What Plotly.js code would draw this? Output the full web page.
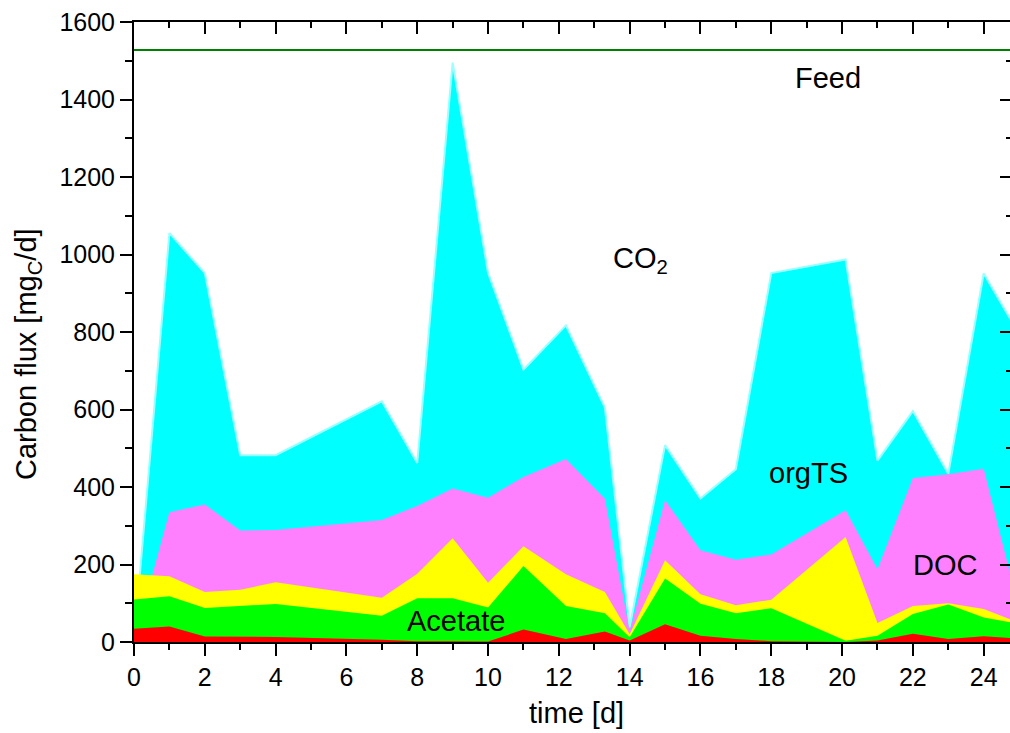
<!DOCTYPE html>
<html>
<head>
<meta charset="utf-8">
<script src="https://cdn.plot.ly/plotly-3.0.1.min.js"></script>
<style>
html, body { margin:0; padding:0; overflow:hidden; background:#fff; }
#chart { width:1012px; height:733px; }
</style>
</head>
<body>
<div id="chart"></div>
<script>
// time [d]
const days = [0, 1, 2, 3, 4, 7, 8, 9, 10, 11, 12.2, 13.3, 14, 15, 16, 17, 18, 20.1, 21, 22, 23, 24, 24.8];
// cumulative upper edges of each area [mgC/d]
const co2Top    = [0, 1055, 952, 482, 482, 621, 462, 1495, 953, 703, 817, 605, 38, 508, 370, 446, 952, 987, 468, 596, 434, 951, 826];
const orgTSTop  = [0, 335, 355, 288, 289, 315, 351, 396, 372, 426, 472, 370, 28, 366, 237, 212, 226, 340, 188, 423, 433, 447, 157];
const docTop    = [175, 170, 129, 135, 154, 114, 176, 268, 153, 247, 175, 129, 20, 211, 123, 95, 109, 271, 49, 93, 100, 85, 57];
const acetateTop= [110, 118, 88, 93, 98, 68, 113, 113, 89, 196, 93, 74, 12, 164, 99, 74, 87, 3, 16, 72, 97, 63, 50];
const otherTop  = [34, 40, 14, 14, 13, 6, 2, 2, 1, 32, 8, 27, 4, 46, 16, 8, 2, 0, 4, 21, 8, 15, 10];
const feedDays  = [0, 25];
const feedVal   = [1528, 1528];

const labels = ["Feed", "CO<sub>2</sub>", "orgTS", "DOC", "Acetate"];
const xTitle = 'time [d]';
const yTitle = 'Carbon flux [mg<sub>C</sub>/d]';

function area(y, fill, line) {
  return {
    x: days, y: y, type: 'scatter', mode: 'lines', fill: 'tozeroy',
    fillcolor: fill,
    line: line || {width: 0, color: fill},
    hoverinfo: 'skip', showlegend: false
  };
}

const traces = [
  area(co2Top, '#00ffff', {color: '#99ffff', width: 2}),
  area(orgTSTop, '#ff80ff'),
  area(docTop, '#ffff00'),
  area(acetateTop, '#00ff00'),
  area(otherTop, '#ff0000'),
  {x: feedDays, y: feedVal, type: 'scatter', mode: 'lines',
   line: {color: '#008000', width: 2}, hoverinfo: 'skip', showlegend: false}
];

const fam = 'Liberation Sans, Arial, sans-serif';
const tickFont = {family: fam, size: 25, color: '#000'};
const titleFont = {family: fam, size: 29, color: '#000'};
const txtFont = {family: fam, size: 29, color: '#000'};

const inPlot = [
  {x: 19.6, y: 1455, text: labels[0]},
  {x: 14.3, y: 985, text: labels[1]},
  {x: 19.05, y: 436, text: labels[2]},
  {x: 22.9, y: 199, text: labels[3]},
  {x: 9.1, y: 54, text: labels[4]}
].map(a => Object.assign({xref: 'x', yref: 'y', showarrow: false, font: txtFont, xanchor: 'center', yanchor: 'middle'}, a));

const axisTitles = [
  {xref: 'paper', yref: 'paper', x: 0.5045, y: -0.1145, text: xTitle, showarrow: false,
   font: titleFont, xanchor: 'center', yanchor: 'middle'},
  {xref: 'paper', yref: 'paper', x: -0.1207, y: 0.4645, text: yTitle, showarrow: false,
   font: titleFont, xanchor: 'center', yanchor: 'middle', textangle: -90}
];

const layout = {
  width: 1012, height: 733,
  margin: {l: 134, r: 0, t: 22, b: 91},
  paper_bgcolor: '#fff', plot_bgcolor: '#fff',
  xaxis: {
    range: [0, 24.8], dtick: 2, tick0: 0,
    ticks: 'outside', ticklen: 12, tickwidth: 2, tickcolor: '#000',
    minor: {dtick: 1, ticks: 'outside', ticklen: 6, tickwidth: 2, tickcolor: '#000'},
    showline: true, linecolor: '#000', linewidth: 2,
    showgrid: false, zeroline: false,
    tickfont: tickFont
  },
  xaxis2: {
    overlaying: 'x', matches: 'x', side: 'top', range: [0, 24.8], dtick: 2, tick0: 0,
    ticks: 'inside', ticklen: 12, tickwidth: 2, tickcolor: '#000',
    minor: {dtick: 1, ticks: 'inside', ticklen: 6, tickwidth: 2, tickcolor: '#000'},
    showline: true, linecolor: '#000', linewidth: 2,
    showticklabels: false, showgrid: false, zeroline: false
  },
  yaxis: {
    range: [0, 1600], dtick: 200, tick0: 0,
    ticks: 'outside', ticklen: 12, tickwidth: 2, tickcolor: '#000',
    minor: {dtick: 100, ticks: 'outside', ticklen: 7, tickwidth: 2, tickcolor: '#000'},
    showline: true, linecolor: '#000', linewidth: 2,
    showgrid: false, zeroline: false,
    tickfont: tickFont
  },
  yaxis2: {
    overlaying: 'y', matches: 'y', side: 'right', range: [0, 1600], dtick: 200, tick0: 0,
    ticks: 'inside', ticklen: 12, tickwidth: 2, tickcolor: '#000',
    minor: {dtick: 100, ticks: 'inside', ticklen: 6, tickwidth: 2, tickcolor: '#000'},
    showline: false, showticklabels: false, showgrid: false, zeroline: false
  },
  annotations: inPlot.concat(axisTitles)
};

// invisible point to activate the mirrored overlay axes
traces.push({x: [0], y: [0], xaxis: 'x2', yaxis: 'y2', mode: 'markers', marker: {opacity: 0}, hoverinfo: 'skip', showlegend: false});

Plotly.newPlot('chart', traces, layout, {displayModeBar: false, staticPlot: true});
</script>
</body>
</html>
